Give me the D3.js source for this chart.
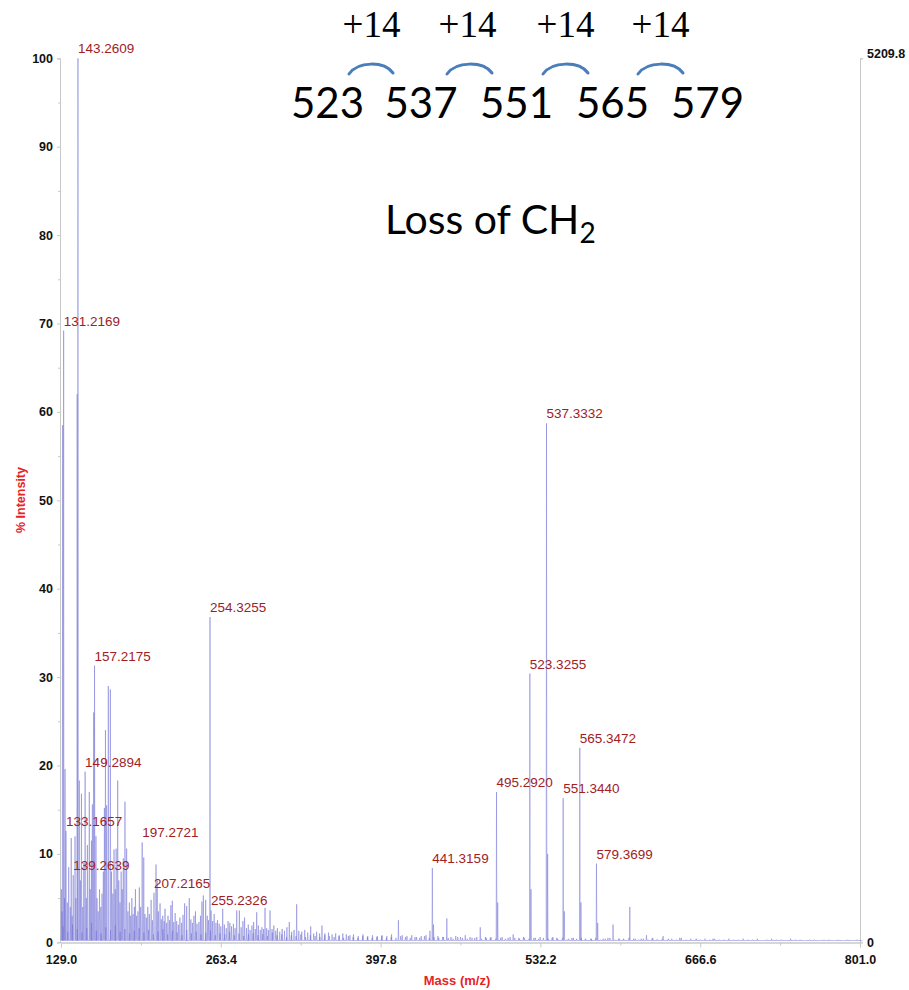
<!DOCTYPE html>
<html>
<head>
<meta charset="utf-8">
<script src="https://cdn.jsdelivr.net/npm/d3@7"></script>
<style>
  body { margin: 0; background: #fff; }
  svg { display: block; }
</style>
</head>
<body>
<svg id="chart" width="909" height="990"></svg>
<script>
// ---- axis settings -------------------------------------------------------
const massDomain = [129.0, 801.0];
const massTicks = [129.0, 263.4, 397.8, 532.2, 666.6, 801.0];
const massMinorTicks = [196.2, 330.6, 465.0, 599.4, 733.8];
const intensityTicks = [0, 10, 20, 30, 40, 50, 60, 70, 80, 90, 100];
const intensityMinorTicks = [5, 15, 25, 35, 45, 55, 65, 75, 85, 95];
const absoluteMax = 5209.8;

// ---- labelled peaks: m/z and % intensity ---------------------------------
const labelledMz = [131.2169, 133.1657, 139.2639, 143.2609, 149.2894, 157.2175,
  197.2721, 207.2165, 254.3255, 255.2326, 441.3159, 495.2920, 523.3255,
  537.3332, 551.3440, 565.3472, 579.3699];
const labelledIntensity = [69.2, 12.6, 7.6, 100, 19.3, 31.3,
  11.3, 5.6, 36.8, 3.6, 8.4, 17.0, 30.4,
  58.7, 16.3, 22.0, 8.9];

// ---- other peaks: [m/z, % intensity] -------------------------------------
const minorPeaks = [
  [129.3, 6], [129.9, 3.5], [130.4, 58.5], [131.9, 5], [132.4, 19.6], [134.3, 4.5],
  [135.5, 8.5], [136.8, 4], [137.6, 11.8], [138.4, 3], [140.8, 12], [141.5, 5],
  [142.6, 62], [144.4, 18.3], [145.3, 7], [146.2, 16.8], [147.3, 4], [148.2, 9],
  [150.3, 5], [151.2, 11], [152.8, 17], [153.6, 6], [154.6, 11.5], [155.4, 15.6],
  [156.5, 26], [158.4, 12], [159.3, 5], [160.3, 3.5], [161.4, 6], [162.5, 4],
  [163.5, 5.5], [164.6, 8], [165.5, 15.2], [166.4, 24], [167.4, 15.5], [168.8, 29],
  [170.5, 28.6], [171.5, 8], [172.6, 5.5], [173.6, 10.5], [174.6, 6], [175.4, 10.6],
  [176.7, 18.3], [177.6, 7], [178.6, 4.5], [179.6, 8], [180.5, 6], [181.4, 9.5],
  [182.8, 15.9], [184.2, 10.6], [185.3, 3.5], [186.5, 4.5], [187.6, 3], [188.6, 5],
  [189.6, 3.2], [190.7, 4], [191.6, 6], [192.6, 3], [193.7, 3.5], [194.9, 6.2],
  [196.0, 4], [198.6, 9.6], [199.6, 3.2], [200.8, 2.8], [202.0, 4], [203.3, 3.2],
  [204.8, 4.8], [205.9, 2.5], [208.9, 8.8], [209.9, 7], [210.9, 3.5], [212.3, 4.4],
  [213.4, 2.6], [214.6, 3], [215.7, 2.4], [216.5, 3.8], [217.8, 2.2], [219.0, 3],
  [220.3, 2.5], [221.4, 4.2], [222.6, 4.7], [223.8, 2.3], [225.0, 3.3], [226.3, 2.4],
  [227.7, 2], [229.0, 2.8], [230.4, 2.2], [231.6, 3.1], [233.0, 4.4], [234.7, 4.1],
  [236.9, 5], [238.2, 2.6], [239.5, 2.2], [240.8, 3], [242.1, 3.5], [243.4, 2.1],
  [245.0, 2.3], [246.3, 3], [247.5, 4.6], [248.7, 5.3], [250.7, 4.8], [252.0, 3],
  [253.1, 2.5], [256.5, 2.4], [257.8, 3.2], [259.3, 2.2], [260.6, 2.5], [262.0, 2.1],
  [263.4, 1.8], [265.0, 3.8], [266.4, 2], [268.0, 1.6], [269.5, 2.4], [271.0, 2.2],
  [272.4, 1.8], [274.0, 2.1], [275.4, 1.6], [276.8, 3.6], [279.0, 3.6], [280.5, 1.7],
  [282.0, 2.4], [283.4, 2.8], [285.0, 1.6], [286.5, 2], [288.0, 1.4], [289.6, 1.9],
  [291.0, 2.3], [292.4, 1.5], [293.6, 3.4], [295.0, 1.9], [296.6, 1.4], [298.0, 1.7],
  [299.4, 1.5], [300.6, 3.9], [302.0, 1.6], [303.4, 1.4], [304.8, 3.6], [306.5, 1.5],
  [308.0, 1.9], [309.6, 1.3], [311.0, 1.6], [313.0, 1.2], [315.0, 1.5], [317.0, 1.3],
  [319.0, 1.7], [321.0, 2.3], [323.0, 1.2], [325.0, 1.4], [327.2, 4.3], [329.0, 1.3],
  [331.5, 1.2], [334.0, 1.4], [336.5, 1.1], [339.0, 1.8], [341.5, 1.0], [344.0, 1.2],
  [346.5, 1.0], [348.5, 1.9], [351.0, 1.0], [354.0, 1.1], [357.0, 0.9], [360.0, 1.0],
  [363.0, 0.8], [366.0, 1.0], [369.0, 0.9], [372.0, 0.8], [375.0, 0.9], [379.0, 0.7],
  [383.0, 0.9], [387.0, 0.7], [391.0, 0.8], [395.0, 0.7], [399.0, 0.8], [403.0, 0.7],
  [407.0, 0.9], [412.8, 2.5], [416.0, 0.8], [420.0, 0.7], [424.0, 0.8], [428.0, 0.6],
  [432.0, 0.7], [436.0, 0.8], [439.3, 1.3], [442.3, 2.0], [446.0, 0.7], [450.0, 0.6],
  [453.5, 2.7], [457.0, 0.6], [461.0, 0.7], [465.0, 0.6], [469.0, 0.8], [473.0, 0.6],
  [477.0, 0.5], [481.6, 1.7], [486.0, 0.6], [490.0, 0.5], [496.3, 4.5], [500.0, 0.6],
  [505.0, 0.5], [509.3, 0.9], [514.0, 0.5], [518.0, 0.6], [524.3, 6], [528.0, 0.5],
  [532.0, 0.6], [538.3, 10], [542.0, 0.5], [546.0, 0.5], [552.3, 3.5], [556.0, 0.4],
  [560.0, 0.5], [566.3, 4.5], [570.0, 0.4], [575.0, 0.4], [580.4, 2.2], [585.0, 0.4],
  [589.0, 0.5], [593.3, 2.0], [598.0, 0.4], [602.0, 0.4], [607.4, 4.0], [612.0, 0.4],
  [617.0, 0.4], [621.4, 0.8], [626.0, 0.4], [630.0, 0.3], [635.4, 0.7], [640.0, 0.4],
  [649.4, 0.5], [663.4, 0.4], [677.4, 0.4]
];

// ---- baseline noise, one reading every 4 m/z from 129 ---------------------
const noiseStart = 129;
const noiseStep = 4;
const noiseIntensity = [
  1.8, 1.2, 2.0, 1.5, 1.1, 1.6, 2.2, 1.3, 1.0, 1.7, 1.4, 1.9, 1.2, 1.5, 1.0, 1.3, 1.6, 1.1, 1.4, 0.9,
  1.2, 1.5, 0.9, 1.3, 1.1, 0.8, 1.4, 1.0, 1.2, 0.9, 1.1, 1.3, 0.8, 1.0, 0.9, 1.2, 0.8, 1.0, 0.7, 0.9,
  1.0, 0.8, 0.9, 0.7, 1.1, 0.8, 0.9, 0.6, 0.8, 0.7, 0.9, 0.6, 0.8, 0.7, 0.6, 0.8, 0.7, 0.6, 0.7, 0.5,
  0.7, 0.6, 0.5, 0.7, 0.6, 0.5, 0.6, 0.7, 0.5, 0.6, 0.5, 0.7, 0.6, 0.5, 0.6, 0.5, 0.7, 0.5, 0.6, 0.5,
  0.6, 0.5, 0.4, 0.6, 0.5, 0.4, 0.5, 0.6, 0.4, 0.5, 0.6, 0.4, 0.5, 0.4, 0.6, 0.5, 0.4, 0.5, 0.4, 0.5,
  0.4, 0.5, 0.4, 0.6, 0.4, 0.5, 0.3, 0.5, 0.4, 0.5, 0.3, 0.4, 0.5, 0.3, 0.4, 0.5, 0.3, 0.4, 0.3, 0.5,
  0.4, 0.3, 0.4, 0.3, 0.5, 0.3, 0.4, 0.3, 0.4, 0.3, 0.5, 0.3, 0.4, 0.3, 0.3, 0.4, 0.3, 0.4, 0.3, 0.3,
  0.4, 0.3, 0.3, 0.4, 0.3, 0.3, 0.4, 0.2, 0.3, 0.4, 0.3, 0.3, 0.2, 0.4, 0.3, 0.3, 0.2, 0.3, 0.3, 0.2,
  0.3, 0.3, 0.2, 0.3, 0.2, 0.3, 0.2, 0.3, 0.2
];

// ---- annotation text -----------------------------------------------------
const seriesMasses = ["523", "537", "551", "565", "579"];
const massShiftText = "+14";
const lossText = "Loss of CH";
const lossSubscript = "2";

// ---- scales ----------------------------------------------------------------
const svg = d3.select("#chart");
const x = d3.scaleLinear().domain(massDomain).range([61, 860]);
const y = d3.scaleLinear().domain([0, 100]).range([942.3, 58.3]);
const yAbs = d3.scaleLinear().domain([0, absoluteMax]).range([942.3, 58.3]);

const axisFont = "'Liberation Sans', Arial, sans-serif";
const axisGrey = "#c9c9c9";

function styleAxis(g) {
  g.selectAll(".domain").attr("stroke", axisGrey).attr("stroke-width", 1);
  g.selectAll(".tick line").attr("stroke", axisGrey);
  g.selectAll(".tick text")
    .attr("fill", "#111")
    .style("font-family", axisFont)
    .style("font-weight", "bold")
    .style("font-size", "12.5px");
}

// left axis: major and minor ticks
svg.append("g")
  .attr("transform", "translate(60,0)")
  .call(d3.axisLeft(y).tickValues(intensityMinorTicks).tickSize(2).tickFormat(""))
  .call(styleAxis);
svg.append("g")
  .attr("transform", "translate(60,0)")
  .call(d3.axisLeft(y).tickValues(intensityTicks).tickSize(3).tickPadding(4).tickFormat(d3.format("d")))
  .call(styleAxis);

// right axis: absolute counts
const rightAxis = svg.append("g")
  .attr("transform", "translate(860,0)")
  .call(d3.axisRight(yAbs).tickValues([0, absoluteMax]).tickSize(3).tickPadding(4)
    .tickFormat(d => d === 0 ? "0" : d3.format(".1f")(d)))
  .call(styleAxis);
rightAxis.selectAll(".tick text").filter(d => d > 0).attr("dy", "-0.1em");

// bottom axis: major and minor ticks
svg.append("g")
  .attr("transform", "translate(0,942.5)")
  .call(d3.axisBottom(x).tickValues(massMinorTicks).tickSize(3).tickFormat(""))
  .call(styleAxis);
svg.append("g")
  .attr("transform", "translate(0,942.5)")
  .call(d3.axisBottom(x).tickValues(massTicks).tickSize(5).tickPadding(8).tickFormat(d3.format(".1f")))
  .call(styleAxis);

// axis titles
svg.append("text")
  .attr("transform", "translate(25,500) rotate(-90)")
  .attr("text-anchor", "middle")
  .attr("fill", "#e8231f")
  .style("font-family", axisFont)
  .style("font-weight", "bold")
  .style("font-size", "12.5px")
  .text("% Intensity");
svg.append("text")
  .attr("x", 457).attr("y", 985)
  .attr("text-anchor", "middle")
  .attr("fill", "#e8231f")
  .style("font-family", axisFont)
  .style("font-weight", "bold")
  .style("font-size", "13px")
  .text("Mass (m/z)");

// ---- spectrum trace --------------------------------------------------------
const spikes = [];
labelledMz.forEach((m, i) => spikes.push([m, labelledIntensity[i]]));
minorPeaks.forEach(p => spikes.push(p));
noiseIntensity.forEach((v, i) => spikes.push([noiseStart + i * noiseStep + 1.7, v]));
spikes.sort((a, b) => a[0] - b[0]);

const halfWidth = 0.3;
const floor = 0.2;
const trace = [];
spikes.forEach(([m, h]) => {
  trace.push([m - halfWidth, floor]);
  trace.push([m, h]);
  trace.push([m + halfWidth, floor]);
});

const line = d3.line().x(d => x(d[0])).y(d => y(d[1]));
svg.append("path")
  .datum(trace)
  .attr("d", line)
  .attr("fill", "none")
  .attr("stroke", "#7474d6")
  .attr("stroke-opacity", 0.62)
  .attr("stroke-width", 0.8)
  .attr("stroke-linejoin", "round");

// peak labels
svg.append("g").selectAll("text")
  .data(labelledMz.map((m, i) => ({ m, h: labelledIntensity[i] })))
  .join("text")
  .attr("x", d => x(d.m))
  .attr("y", d => y(d.h) - 5)
  .attr("fill", "#a0211f")
  .style("font-family", axisFont)
  .style("font-size", "13.5px")
  .text(d => d3.format(".4f")(d.m));

// ---- series annotation -----------------------------------------------------
const numberCentres = [327.5, 421, 516.5, 612.5, 707.5];
const shiftCentres = [371.5, 467.5, 565.5, 660.5];
const arcEnds = [[349, 393], [447, 492], [543, 588], [638, 683]];

svg.append("g").selectAll("text")
  .data(shiftCentres)
  .join("text")
  .attr("x", d => d).attr("y", 37)
  .attr("text-anchor", "middle")
  .attr("fill", "#000")
  .style("font-family", "'Liberation Serif', 'Times New Roman', serif")
  .style("font-size", "37px")
  .text(massShiftText);

svg.append("g").selectAll("path")
  .data(arcEnds)
  .join("path")
  .attr("d", ([a, b]) => `M${a},74 C${a + 9},61 ${b - 9},61 ${b},73`)
  .attr("fill", "none")
  .attr("stroke", "#4a7ebb")
  .attr("stroke-width", 3)
  .attr("stroke-linecap", "round");

svg.append("g").selectAll("text")
  .data(seriesMasses)
  .join("text")
  .attr("x", (d, i) => numberCentres[i]).attr("y", 118)
  .attr("text-anchor", "middle")
  .attr("fill", "#000")
  .style("font-family", "Lato, 'Open Sans', sans-serif")
  .style("font-size", "42px")
  .text(d => d);

const loss = svg.append("text")
  .attr("x", 385).attr("y", 234)
  .attr("fill", "#000")
  .style("font-family", "Lato, 'Open Sans', sans-serif")
  .style("font-size", "41px");
loss.append("tspan").text(lossText);
loss.append("tspan").attr("dy", 9).style("font-size", "28px").text(lossSubscript);
</script>
</body>
</html>
